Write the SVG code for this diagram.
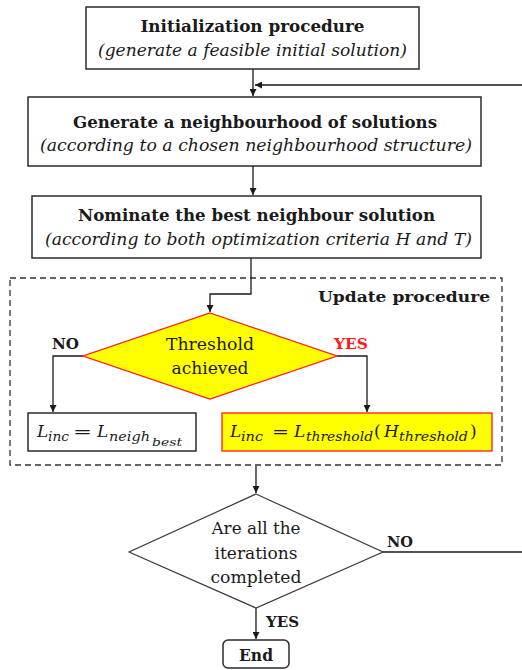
<svg xmlns="http://www.w3.org/2000/svg" width="522" height="670" viewBox="0 0 522 670">
  <style>
    .box { fill: #ffffff; stroke: #2b2b2b; stroke-width: 1.5; }
    .hot { fill: #ffff00; stroke: #ff1a1a; stroke-width: 1.3; }
    .dec { fill: #ffffff; stroke: #3a3a3a; stroke-width: 1.2; }
    .frame { fill: none; stroke: #333333; stroke-width: 1.3; stroke-dasharray: 6 4; }
    .wire { fill: none; stroke: #1a1a1a; stroke-width: 1.3; }
    .title { font-family: "DejaVu Serif", "Liberation Serif", serif; font-weight: bold; font-size: 16px; fill: #1a1a1a; text-anchor: middle; }
    .note { font-family: "DejaVu Serif", "Liberation Serif", serif; font-style: italic; font-size: 16.5px; fill: #1a1a1a; text-anchor: middle; }
    .plain { font-family: "DejaVu Serif", "Liberation Serif", serif; font-size: 16px; fill: #1a1a1a; text-anchor: middle; }
    .lab { font-family: "DejaVu Serif", "Liberation Serif", serif; font-weight: bold; font-size: 15px; fill: #1a1a1a; }
    .math { font-family: "DejaVu Serif", "Liberation Serif", serif; font-style: italic; font-size: 17px; fill: #1a1a1a; }
    .sub { font-size: 12.5px; }
    .subsub { font-size: 11px; }
  </style>
  <defs>
    <marker id="arrow" markerUnits="userSpaceOnUse" markerWidth="8" markerHeight="7" refX="7" refY="3.5" orient="auto">
      <path d="M0,0 L7,3.5 L0,7 z" fill="#1a1a1a"/>
    </marker>
  </defs>

  <!-- dashed frame around the update step -->
  <g id="update-procedure">
    <rect class="frame" x="10" y="278" width="492" height="187"/>
    <text class="lab" x="490" y="302" text-anchor="end" font-size="16" textLength="172" lengthAdjust="spacingAndGlyphs">Update procedure</text>
  </g>

  <!-- connectors -->
  <g id="connectors">
    <path class="wire" d="M253,69 V96" marker-end="url(#arrow)"/>
    <path class="wire" d="M383,552 H530 V85 H255" marker-end="url(#arrow)"/>
    <path class="wire" d="M253,166 V195" marker-end="url(#arrow)"/>
    <path class="wire" d="M251,258 V294 H210 V312" marker-end="url(#arrow)"/>
    <path class="wire" d="M83,356 H53 V412" marker-end="url(#arrow)"/>
    <path class="wire" d="M337,356 H367 V412" marker-end="url(#arrow)"/>
    <path class="wire" d="M256,466 V493" marker-end="url(#arrow)"/>
    <path class="wire" d="M256,608 V639" marker-end="url(#arrow)"/>
  </g>

  <g id="init">
    <rect class="box" x="86" y="7" width="333" height="62"/>
    <text class="title" x="252.5" y="32" textLength="224" lengthAdjust="spacingAndGlyphs">Initialization procedure</text>
    <text class="note" x="252.5" y="56" textLength="309" lengthAdjust="spacingAndGlyphs">(generate a feasible initial solution)</text>
  </g>

  <g id="neighbourhood">
    <rect class="box" x="28" y="97" width="453" height="69"/>
    <text class="title" x="255" y="128" textLength="364" lengthAdjust="spacingAndGlyphs">Generate a neighbourhood of solutions</text>
    <text class="note" x="256" y="151" textLength="432" lengthAdjust="spacingAndGlyphs">(according to a chosen neighbourhood structure)</text>
  </g>

  <g id="nominate">
    <rect class="box" x="32" y="196" width="449" height="62"/>
    <text class="title" x="256.5" y="221" textLength="357" lengthAdjust="spacingAndGlyphs">Nominate the best neighbour solution</text>
    <text class="note" x="258.5" y="245" textLength="427" lengthAdjust="spacingAndGlyphs">(according to both optimization criteria H and T)</text>
  </g>

  <g id="threshold-check">
    <polygon class="hot" points="210,313 337,356 210,399 83,356"/>
    <text class="plain" x="210" y="350" font-size="17.5" textLength="88" lengthAdjust="spacingAndGlyphs">Threshold</text>
    <text class="plain" x="210" y="374" font-size="17.5" textLength="77" lengthAdjust="spacingAndGlyphs">achieved</text>
    <text class="lab" x="52" y="349" textLength="27" lengthAdjust="spacingAndGlyphs">NO</text>
    <text class="lab" x="334" y="349" style="fill:#ff1a1a" textLength="34" lengthAdjust="spacingAndGlyphs">YES</text>
  </g>

  <g id="keep-best">
    <rect class="box" x="28" y="413" width="168" height="38"/>
    <text class="math"><tspan x="37" y="437">L</tspan><tspan class="sub" x="48" y="441" textLength="21" lengthAdjust="spacingAndGlyphs">inc</tspan><tspan x="73" y="437" font-style="normal" textLength="19" lengthAdjust="spacingAndGlyphs">=</tspan><tspan x="97" y="437">L</tspan><tspan class="sub" x="109" y="441" textLength="41" lengthAdjust="spacingAndGlyphs">neigh</tspan><tspan class="subsub" x="152" y="446" textLength="30" lengthAdjust="spacingAndGlyphs">best</tspan></text>
  </g>

  <g id="take-threshold">
    <rect class="hot" x="222" y="413" width="270" height="38"/>
    <text class="math"><tspan x="230" y="437">L</tspan><tspan class="sub" x="241" y="441" textLength="22" lengthAdjust="spacingAndGlyphs">inc</tspan><tspan x="272" y="437" font-style="normal" textLength="17" lengthAdjust="spacingAndGlyphs">=</tspan><tspan x="294" y="437">L</tspan><tspan class="sub" x="306" y="441" textLength="67" lengthAdjust="spacingAndGlyphs">threshold</tspan><tspan x="374" y="437" font-style="normal">(</tspan><tspan x="384" y="437">H</tspan><tspan class="sub" x="399" y="441" textLength="69" lengthAdjust="spacingAndGlyphs">threshold</tspan><tspan x="470" y="437" font-style="normal">)</tspan></text>
  </g>

  <g id="iterations-check">
    <polygon class="dec" points="256,494 383,552 256,608 129,552"/>
    <text class="plain" x="256" y="534" textLength="89" lengthAdjust="spacingAndGlyphs">Are all the</text>
    <text class="plain" x="256" y="559" textLength="83" lengthAdjust="spacingAndGlyphs">iterations</text>
    <text class="plain" x="256" y="583" textLength="91" lengthAdjust="spacingAndGlyphs">completed</text>
    <text class="lab" x="387" y="547" textLength="26" lengthAdjust="spacingAndGlyphs">NO</text>
    <text class="lab" x="266" y="627" textLength="33" lengthAdjust="spacingAndGlyphs">YES</text>
  </g>

  <g id="end">
    <rect class="box" x="223" y="640" width="66" height="28" rx="5" ry="5"/>
    <text class="title" x="256" y="661" textLength="34" lengthAdjust="spacingAndGlyphs">End</text>
  </g>
</svg>
